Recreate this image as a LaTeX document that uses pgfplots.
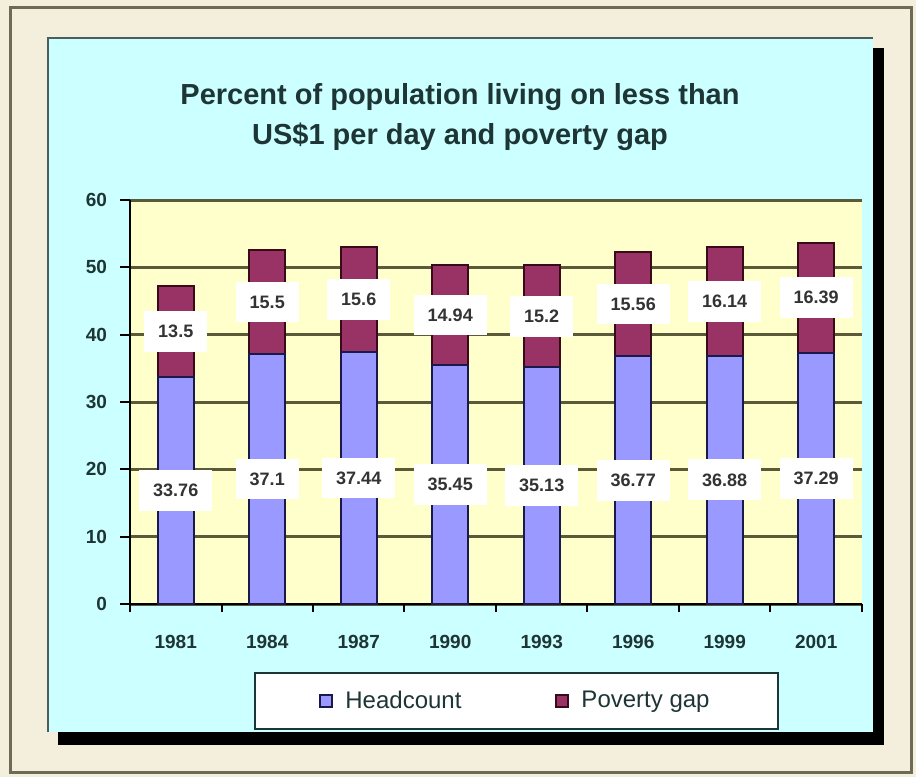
\documentclass[border=0pt]{standalone}
\usepackage{fontspec}
\setmainfont{Liberation Sans}
\usepackage{pgfplots}
\pgfplotsset{compat=1.18}
\definecolor{hc}{HTML}{9999FF}
\definecolor{hcedge}{HTML}{1A1A4A}
\definecolor{pg}{HTML}{993366}
\definecolor{pgedge}{HTML}{3A0A1A}
\definecolor{plotbg}{HTML}{FFFFCC}
\definecolor{panel}{HTML}{CCFFFF}
\definecolor{panelborder}{HTML}{4A5E5E}
\definecolor{outerbg}{HTML}{F3EFDC}
\definecolor{outerborder}{HTML}{6E6B55}
\definecolor{gridc}{HTML}{5A5A38}
\definecolor{txt}{HTML}{1E3535}
\definecolor{lbl}{HTML}{333333}
\begin{document}
\begin{tikzpicture}
\begin{scope}[x=0.5pt,y=-0.5pt]
\useasboundingbox (0,0) rectangle (916,777);
\fill[outerbg] (0,0) rectangle (916,777);
\draw[outerborder, line width=1.5pt] (10,7) rectangle (911,772);
\fill[black] (58,48) rectangle (884,745);
\fill[panel] (48,38) rectangle (873,732);
\draw[panelborder, line width=1pt] (48,732) -- (48,38) -- (873,38);
\coordinate (O) at (130,604);
\node[font=\bfseries\fontsize{14.5}{20}\selectfont, align=center, text=txt] at (460,117)
  {Percent of population living on less than\\US\$1 per day and poverty gap};
\end{scope}
\begin{axis}[
  at={(O)}, anchor=south west,
  scale only axis, width=366pt, height=202pt,
  ybar stacked, bar width=18pt,
  xmin=-0.5, xmax=7.5, ymin=0, ymax=60,
  ytick={0,10,...,60},
  xtick={0,...,7},
  xticklabels={1981,1984,1987,1990,1993,1996,1999,2001},
  minor xtick={-0.5,0.5,...,7.5},
  axis x line=bottom, axis y line=left,
  axis line style={black, line width=1pt, -},
  tick align=outside,
  major tick length=5pt, minor tick length=4pt,
  major x tick style={draw=none},
  minor x tick style={black, line width=1pt},
  ytick style={black, line width=1pt},
  ymajorgrids,
  major grid style={gridc, line width=1.5pt},
  axis background/.style={fill=plotbg},
  /pgf/number format/assume math mode=true,
  ticklabel style={font=\bfseries\fontsize{9.5}{11}\selectfont, text=txt},
  xticklabel style={yshift=-7pt},
  yticklabel style={xshift=-3pt},
  visualization depends on={rawy \as \rawy},
  point meta=rawy,
  nodes near coords,
  nodes near coords style={fill=white, text=lbl, font=\bfseries\fontsize{9}{10}\selectfont,
    inner xsep=7pt, inner ysep=7pt, anchor=center},
  area legend,
  legend image code/.code={\draw[#1] (0pt,-3pt) rectangle (6pt,3pt);},
  legend columns=2,
  legend style={at={(0.528,-0.168)}, anchor=north, draw=txt, line width=1pt, fill=white,
    font=\fontsize{12}{14}\selectfont, text=txt, inner xsep=32pt, inner ysep=7pt,
    /tikz/every even column/.append style={column sep=45pt}},
]
\addplot[fill=hc, draw=hcedge, line width=1pt] coordinates {
  (0,33.76) (1,37.1) (2,37.44) (3,35.45) (4,35.13) (5,36.77) (6,36.88) (7,37.29)};
\addplot[fill=pg, draw=pgedge, line width=1pt] coordinates {
  (0,13.5) (1,15.5) (2,15.6) (3,14.94) (4,15.2) (5,15.56) (6,16.14) (7,16.39)};
\legend{\hspace{4pt}Headcount, \hspace{4pt}Poverty gap\hspace{33pt}}
\end{axis}
\end{tikzpicture}
\end{document}
